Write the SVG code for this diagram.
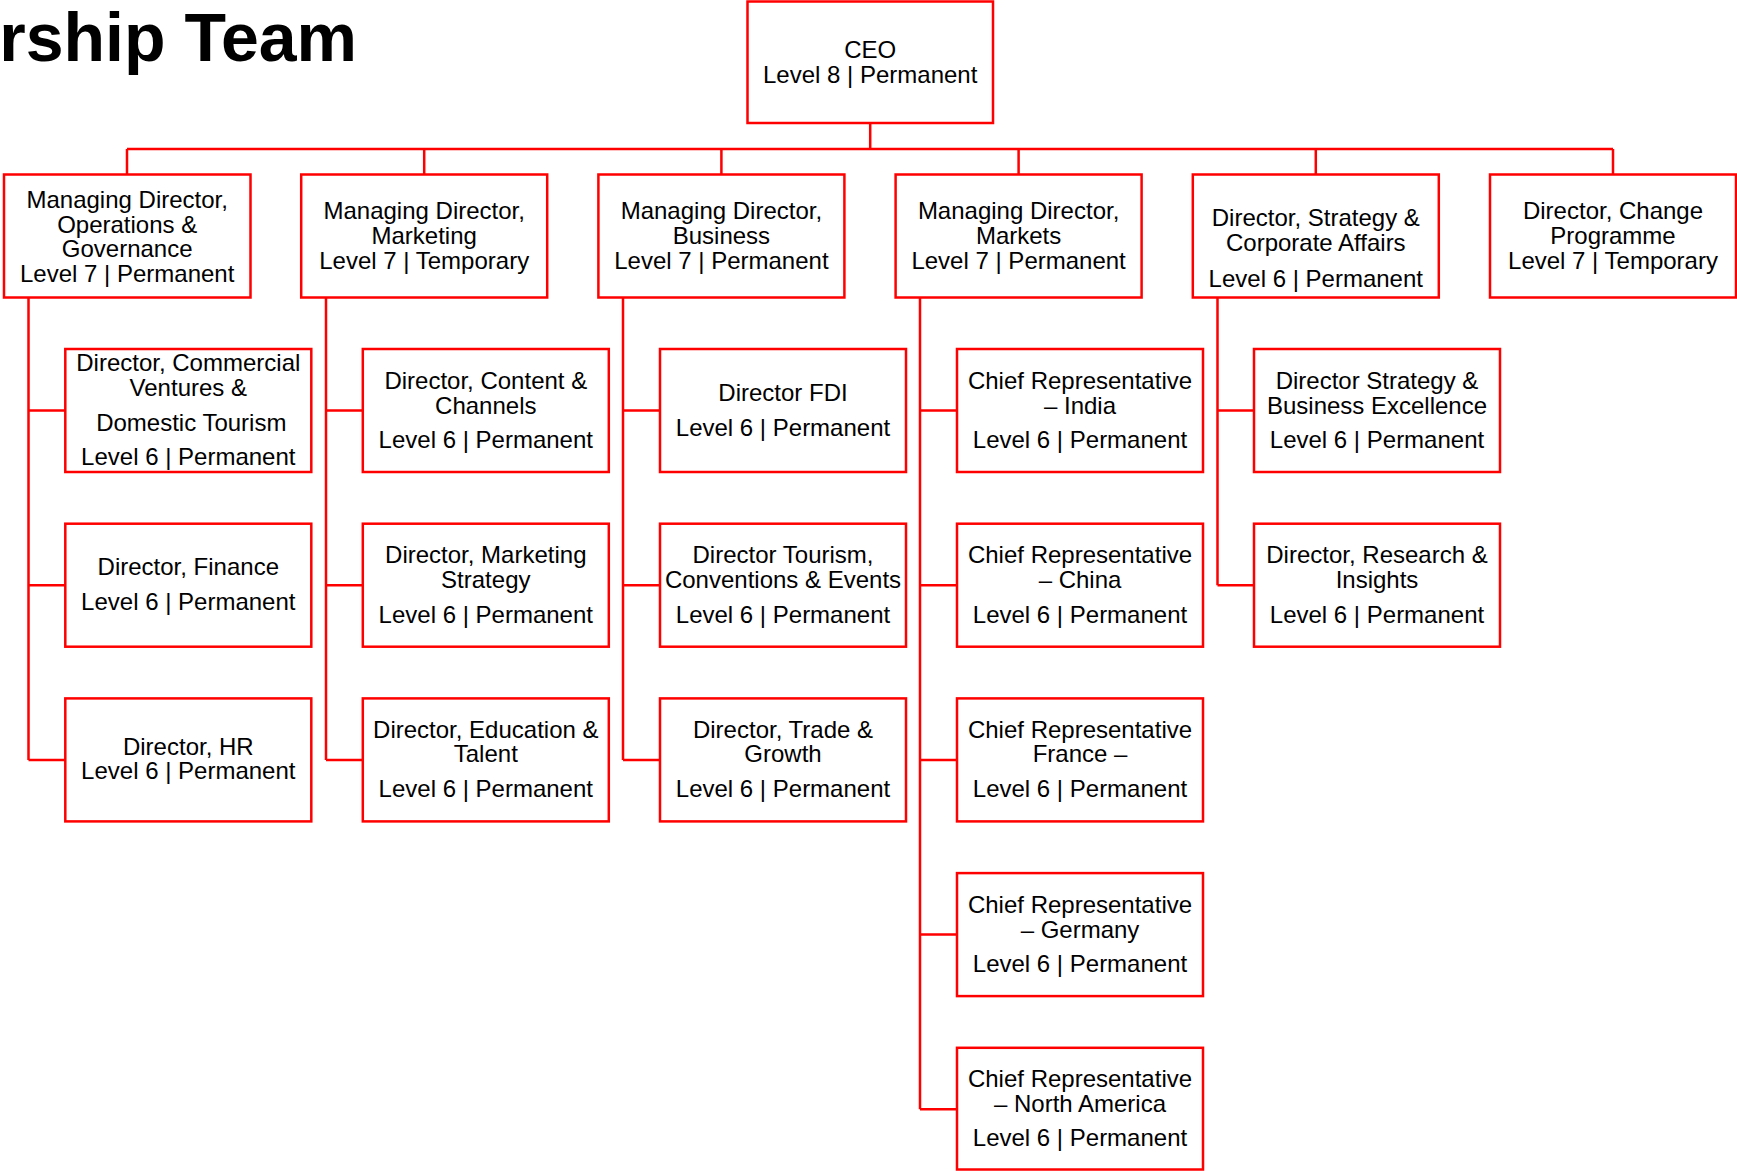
<svg xmlns="http://www.w3.org/2000/svg" width="1737" height="1171" viewBox="0 0 1737 1171">
<style>
.b{fill:#fff;stroke:#ff0000;stroke-width:2.5}
.c{fill:none;stroke:#ff0000;stroke-width:2.5}
.t{font-family:"Liberation Sans",Arial,sans-serif;font-size:24px;fill:#000;text-anchor:middle;transform:translateY(1px)}
.title{font-family:"Liberation Sans",Arial,sans-serif;font-size:68px;font-weight:bold;fill:#000;text-anchor:end}
</style>
<rect width="1737" height="1171" fill="#fff"/>
<text class="title" x="357" y="61">rship Team</text>
<g id="connectors">
<path class="c" d="M870.2,123 V149 M127,149 H1613 M127,149 V174.5 M424.2,149 V174.5 M721.4,149 V174.5 M1018.6,149 V174.5 M1315.8,149 V174.5 M1613,149 V174.5"/>
<path class="c" d="M28.5,297.5 V760 M28.5,410.5 H65.3 M28.5,585.2 H65.3 M28.5,760 H65.3"/>
<path class="c" d="M326,297.5 V760 M326,410.5 H362.8 M326,585.2 H362.8 M326,760 H362.8"/>
<path class="c" d="M623,297.5 V760 M623,410.5 H660 M623,585.2 H660 M623,760 H660"/>
<path class="c" d="M920,297.5 V1109.3 M920,410.5 H957 M920,585.2 H957 M920,760 H957 M920,934.6 H957 M920,1109.3 H957"/>
<path class="c" d="M1217.5,297.5 V585.2 M1217.5,410.5 H1254 M1217.5,585.2 H1254"/>
</g>
<g id="ceo"><rect class="b" x="747.5" y="1.5" width="245.5" height="121.5"/><text class="t"><tspan x="870.2" y="57">CEO</tspan><tspan x="870.2" y="82">Level 8 | Permanent</tspan></text></g>
<g id="md-ops"><rect class="b" x="4" y="174.5" width="246.5" height="123"/><text class="t"><tspan x="127.2" y="207">Managing Director,</tspan><tspan x="127.2" y="231.5">Operations &amp;</tspan><tspan x="127.2" y="256">Governance</tspan><tspan x="127.2" y="281">Level 7 | Permanent</tspan></text></g>
<g id="md-marketing"><rect class="b" x="301.2" y="174.5" width="246" height="123"/><text class="t"><tspan x="424.2" y="218.3">Managing Director,</tspan><tspan x="424.2" y="243.3">Marketing</tspan><tspan x="424.2" y="268.3">Level 7 | Temporary</tspan></text></g>
<g id="md-business"><rect class="b" x="598.4" y="174.5" width="246" height="123"/><text class="t"><tspan x="721.4" y="218.3">Managing Director,</tspan><tspan x="721.4" y="243.3">Business</tspan><tspan x="721.4" y="268.3">Level 7 | Permanent</tspan></text></g>
<g id="md-markets"><rect class="b" x="895.6" y="174.5" width="246" height="123"/><text class="t"><tspan x="1018.6" y="218.3">Managing Director,</tspan><tspan x="1018.6" y="243.3">Markets</tspan><tspan x="1018.6" y="268.3">Level 7 | Permanent</tspan></text></g>
<g id="dir-strategy"><rect class="b" x="1192.8" y="174.5" width="246" height="123"/><text class="t"><tspan x="1315.8" y="225">Director, Strategy &amp;</tspan><tspan x="1315.8" y="250">Corporate Affairs</tspan><tspan x="1315.8" y="285.7">Level 6 | Permanent</tspan></text></g>
<g id="dir-change"><rect class="b" x="1490" y="174.5" width="246" height="123"/><text class="t"><tspan x="1613" y="218.3">Director, Change</tspan><tspan x="1613" y="243.3">Programme</tspan><tspan x="1613" y="268.3">Level 7 | Temporary</tspan></text></g>

<g id="dir-commercial"><rect class="b" x="65.3" y="349" width="246" height="123"/><text class="t"><tspan x="188.3" y="370">Director, Commercial</tspan><tspan x="188.3" y="395">Ventures &amp;</tspan><tspan x="191.3" y="430">Domestic Tourism</tspan><tspan x="188.3" y="464.3">Level 6 | Permanent</tspan></text></g>
<g id="dir-finance"><rect class="b" x="65.3" y="523.7" width="246" height="123"/><text class="t"><tspan x="188.3" y="574.3">Director, Finance</tspan><tspan x="188.3" y="609.3">Level 6 | Permanent</tspan></text></g>
<g id="dir-hr"><rect class="b" x="65.3" y="698.4" width="246" height="123"/><text class="t"><tspan x="188.3" y="754">Director, HR</tspan><tspan x="188.3" y="778.3">Level 6 | Permanent</tspan></text></g>

<g id="dir-content"><rect class="b" x="362.8" y="349" width="246" height="123"/><text class="t"><tspan x="485.8" y="388">Director, Content &amp;</tspan><tspan x="485.8" y="412.6">Channels</tspan><tspan x="485.8" y="447.2">Level 6 | Permanent</tspan></text></g>
<g id="dir-mkt-strategy"><rect class="b" x="362.8" y="523.7" width="246" height="123"/><text class="t"><tspan x="485.8" y="562.3">Director, Marketing</tspan><tspan x="485.8" y="587.3">Strategy</tspan><tspan x="485.8" y="621.7">Level 6 | Permanent</tspan></text></g>
<g id="dir-education"><rect class="b" x="362.8" y="698.4" width="246" height="123"/><text class="t"><tspan x="485.8" y="736.5">Director, Education &amp;</tspan><tspan x="485.8" y="761.3">Talent</tspan><tspan x="485.8" y="796">Level 6 | Permanent</tspan></text></g>

<g id="dir-fdi"><rect class="b" x="660" y="349" width="246" height="123"/><text class="t"><tspan x="783" y="400">Director FDI</tspan><tspan x="783" y="435">Level 6 | Permanent</tspan></text></g>
<g id="dir-tourism"><rect class="b" x="660" y="523.7" width="246" height="123"/><text class="t"><tspan x="783" y="562.3">Director Tourism,</tspan><tspan x="783" y="587.3">Conventions &amp; Events</tspan><tspan x="783" y="621.7">Level 6 | Permanent</tspan></text></g>
<g id="dir-trade"><rect class="b" x="660" y="698.4" width="246" height="123"/><text class="t"><tspan x="783" y="736.5">Director, Trade &amp;</tspan><tspan x="783" y="761.3">Growth</tspan><tspan x="783" y="796">Level 6 | Permanent</tspan></text></g>

<g id="cr-india"><rect class="b" x="957" y="349" width="246" height="123"/><text class="t"><tspan x="1080" y="388">Chief Representative</tspan><tspan x="1080" y="412.6">– India</tspan><tspan x="1080" y="447.2">Level 6 | Permanent</tspan></text></g>
<g id="cr-china"><rect class="b" x="957" y="523.7" width="246" height="123"/><text class="t"><tspan x="1080" y="562.3">Chief Representative</tspan><tspan x="1080" y="587.3">– China</tspan><tspan x="1080" y="621.7">Level 6 | Permanent</tspan></text></g>
<g id="cr-france"><rect class="b" x="957" y="698.4" width="246" height="123"/><text class="t"><tspan x="1080" y="736.5">Chief Representative</tspan><tspan x="1080" y="761.3">France –</tspan><tspan x="1080" y="796">Level 6 | Permanent</tspan></text></g>
<g id="cr-germany"><rect class="b" x="957" y="873.1" width="246" height="123"/><text class="t"><tspan x="1080" y="911.5">Chief Representative</tspan><tspan x="1080" y="936.5">– Germany</tspan><tspan x="1080" y="970.7">Level 6 | Permanent</tspan></text></g>
<g id="cr-na"><rect class="b" x="957" y="1047.8" width="246" height="121.7"/><text class="t"><tspan x="1080" y="1086">Chief Representative</tspan><tspan x="1080" y="1111">– North America</tspan><tspan x="1080" y="1145.3">Level 6 | Permanent</tspan></text></g>

<g id="dir-strategy-be"><rect class="b" x="1254" y="349" width="246" height="123"/><text class="t"><tspan x="1377" y="388">Director Strategy &amp;</tspan><tspan x="1377" y="412.6">Business Excellence</tspan><tspan x="1377" y="447.2">Level 6 | Permanent</tspan></text></g>
<g id="dir-research"><rect class="b" x="1254" y="523.7" width="246" height="123"/><text class="t"><tspan x="1377" y="562.3">Director, Research &amp;</tspan><tspan x="1377" y="587.3">Insights</tspan><tspan x="1377" y="621.7">Level 6 | Permanent</tspan></text></g>
</svg>
